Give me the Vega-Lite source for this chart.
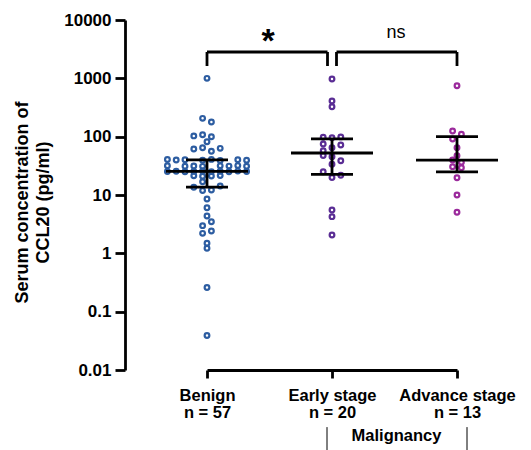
{
  "$schema": "https://vega.github.io/schema/vega-lite/v6.json",
  "width": 405,
  "height": 350,
  "autosize": {"type": "none"},
  "padding": {"left": 125, "top": 20, "right": 1, "bottom": 80},
  "background": "white",
  "config": {"view": {"stroke": null}, "font": "Liberation Sans"},
  "datasets": {
    "points": [
      {"group": "Benign", "col": 0, "value": 1000},
      {"group": "Benign", "col": -0.5, "value": 206},
      {"group": "Benign", "col": 0.5, "value": 178},
      {"group": "Benign", "col": -0.5, "value": 108},
      {"group": "Benign", "col": -1.5, "value": 103},
      {"group": "Benign", "col": 0.5, "value": 99.5},
      {"group": "Benign", "col": 0, "value": 82},
      {"group": "Benign", "col": -0.5, "value": 64.7},
      {"group": "Benign", "col": 1.5, "value": 63.1},
      {"group": "Benign", "col": -1.5, "value": 61.4},
      {"group": "Benign", "col": 0.5, "value": 56.1},
      {"group": "Benign", "col": -4.5, "value": 40.5},
      {"group": "Benign", "col": -3.5, "value": 39.8},
      {"group": "Benign", "col": -2.5, "value": 40.2},
      {"group": "Benign", "col": -0.5, "value": 39.5},
      {"group": "Benign", "col": 0.5, "value": 40.8},
      {"group": "Benign", "col": 1.5, "value": 39.2},
      {"group": "Benign", "col": 3.5, "value": 40.1},
      {"group": "Benign", "col": 4.5, "value": 39.6},
      {"group": "Benign", "col": -4.5, "value": 31.8},
      {"group": "Benign", "col": -2.5, "value": 31.2},
      {"group": "Benign", "col": -1.5, "value": 31.5},
      {"group": "Benign", "col": -0.5, "value": 31.0},
      {"group": "Benign", "col": 1.5, "value": 31.6},
      {"group": "Benign", "col": 2.5, "value": 31.3},
      {"group": "Benign", "col": 3.5, "value": 31.9},
      {"group": "Benign", "col": 4.5, "value": 31.1},
      {"group": "Benign", "col": -4.5, "value": 25.3},
      {"group": "Benign", "col": -3.5, "value": 25.6},
      {"group": "Benign", "col": -2.5, "value": 25.0},
      {"group": "Benign", "col": -1.5, "value": 25.4},
      {"group": "Benign", "col": -0.5, "value": 25.8},
      {"group": "Benign", "col": 0.5, "value": 25.2},
      {"group": "Benign", "col": 1.5, "value": 25.5},
      {"group": "Benign", "col": 2.5, "value": 25.1},
      {"group": "Benign", "col": 3.5, "value": 25.7},
      {"group": "Benign", "col": 4.5, "value": 25.3},
      {"group": "Benign", "col": -1.5, "value": 21.4},
      {"group": "Benign", "col": -0.5, "value": 21.0},
      {"group": "Benign", "col": 0.5, "value": 21.2},
      {"group": "Benign", "col": 1.5, "value": 21.5},
      {"group": "Benign", "col": -0.5, "value": 16.9},
      {"group": "Benign", "col": 1.5, "value": 14.3},
      {"group": "Benign", "col": -1.5, "value": 13.6},
      {"group": "Benign", "col": 0.5, "value": 12.2},
      {"group": "Benign", "col": -0.5, "value": 11.9},
      {"group": "Benign", "col": 0, "value": 8.54},
      {"group": "Benign", "col": 0, "value": 6.05},
      {"group": "Benign", "col": 0, "value": 4.36},
      {"group": "Benign", "col": 0.5, "value": 3.48},
      {"group": "Benign", "col": -0.5, "value": 2.98},
      {"group": "Benign", "col": 0.5, "value": 2.42},
      {"group": "Benign", "col": -0.5, "value": 2.2},
      {"group": "Benign", "col": 0, "value": 1.49},
      {"group": "Benign", "col": 0, "value": 1.22},
      {"group": "Benign", "col": 0, "value": 0.26},
      {"group": "Benign", "col": 0, "value": 0.039},
      {"group": "Early stage", "col": 0, "value": 975},
      {"group": "Early stage", "col": 0, "value": 408},
      {"group": "Early stage", "col": 0, "value": 326},
      {"group": "Early stage", "col": -1, "value": 97.5},
      {"group": "Early stage", "col": 0, "value": 96},
      {"group": "Early stage", "col": 1, "value": 99},
      {"group": "Early stage", "col": -1, "value": 74.8},
      {"group": "Early stage", "col": 1, "value": 72},
      {"group": "Early stage", "col": 0, "value": 64.7},
      {"group": "Early stage", "col": -1, "value": 57.5},
      {"group": "Early stage", "col": -1, "value": 47.5},
      {"group": "Early stage", "col": 0, "value": 45.4},
      {"group": "Early stage", "col": 1, "value": 38.7},
      {"group": "Early stage", "col": 0, "value": 33.6},
      {"group": "Early stage", "col": -1, "value": 25.1},
      {"group": "Early stage", "col": 0, "value": 20},
      {"group": "Early stage", "col": 1, "value": 21.8},
      {"group": "Early stage", "col": 0, "value": 5.53},
      {"group": "Early stage", "col": 0, "value": 4.25},
      {"group": "Early stage", "col": 0, "value": 2.06},
      {"group": "Advance stage", "col": 0, "value": 748},
      {"group": "Advance stage", "col": -0.5, "value": 125},
      {"group": "Advance stage", "col": 0.5, "value": 110},
      {"group": "Advance stage", "col": -0.5, "value": 91},
      {"group": "Advance stage", "col": 0, "value": 64.7},
      {"group": "Advance stage", "col": 0, "value": 47.2},
      {"group": "Advance stage", "col": -0.5, "value": 39.8},
      {"group": "Advance stage", "col": 0.5, "value": 36.3},
      {"group": "Advance stage", "col": -0.5, "value": 30.6},
      {"group": "Advance stage", "col": 0.5, "value": 29.4},
      {"group": "Advance stage", "col": 0, "value": 19.8},
      {"group": "Advance stage", "col": 0, "value": 10},
      {"group": "Advance stage", "col": 0, "value": 5.05}
    ],
    "summary": [
      {"group": "Benign", "median": 25.5, "q1": 13.6, "q3": 40},
      {"group": "Early stage", "median": 52.5, "q1": 22.6, "q3": 92},
      {"group": "Advance stage", "median": 39.5, "q1": 25, "q3": 100}
    ],
    "bracket1": [{"group": "Benign", "group2": "Early stage", "value": 2830}],
    "bracket2": [{"group": "Early stage", "group2": "Advance stage", "value": 2830}],
    "legsOuter": [
      {"group": "Benign", "value": 1626, "value2": 2830},
      {"group": "Advance stage", "value": 1626, "value2": 2830}
    ],
    "legMid": [{"group": "Early stage", "value": 1626, "value2": 2830}],
    "stars": [{"group": "Benign", "value": 2830, "label": "*"}],
    "ns": [{"group": "Early stage", "value": 4914, "label": "ns"}],
    "barEarly": [{"group": "Early stage", "value": 0.00105, "value2": 0.000425}],
    "barAdvance": [{"group": "Advance stage", "value": 0.00105, "value2": 0.000425}]
  },
  "encoding": {
    "x": {
      "field": "group",
      "type": "nominal",
      "sort": ["Benign", "Early stage", "Advance stage"],
      "scale": {"type": "point", "domain": ["Benign", "Early stage", "Advance stage"], "range": [82, 332], "padding": 0},
      "axis": {
        "labelExpr": "datum.label == 'Benign' ? ['Benign', 'n = 57'] : datum.label == 'Early stage' ? ['Early stage', 'n = 20'] : ['Advance stage', 'n = 13']",
        "labelAngle": 0,
        "title": "Malignancy",
        "titleX": 271,
        "titleY": 70,
        "titleAlign": "center",
        "titleBaseline": "alphabetic",
        "titleFont": "Liberation Sans",
        "titleFontSize": 16.5,
        "titleFontWeight": "bold",
        "titleColor": "black",
        "labelFont": "Liberation Sans",
        "labelFontSize": 16.5,
        "labelFontWeight": "bold",
        "labelColor": "black",
        "labelLineHeight": 17,
        "labelPadding": 9,
        "labelFlush": false,
        "labelOverlap": false,
        "tickSize": 8,
        "tickWidth": 2.8,
        "tickColor": "black",
        "domainColor": "black",
        "domainWidth": 2.8,
        "grid": false
      }
    },
    "y": {
      "field": "value",
      "type": "quantitative",
      "scale": {"type": "log", "domain": [0.01, 10000], "nice": false},
      "axis": {
        "title": ["Serum concentration of", "CCL20 (pg/ml)"],
        "titleFont": "Liberation Sans",
        "titleFontSize": 18,
        "titleFontWeight": "bold",
        "titleColor": "black",
        "titleLineHeight": 21,
        "titleAngle": -90,
        "titleX": -98,
        "titleY": 182,
        "titleAlign": "center",
        "titleBaseline": "alphabetic",
        "values": [0.01, 0.1, 1, 10, 100, 1000, 10000],
        "format": "~g",
        "labelFont": "Liberation Sans",
        "labelFontSize": 17,
        "labelFontWeight": "bold",
        "labelColor": "black",
        "labelPadding": 4,
        "tickSize": 10,
        "tickWidth": 2.8,
        "tickColor": "black",
        "domainColor": "black",
        "domainWidth": 2.8,
        "grid": false
      }
    }
  },
  "layer": [
    {
      "data": {"name": "points"},
      "mark": {"type": "point", "filled": false, "size": 22, "strokeWidth": 2.2, "opacity": 1},
      "encoding": {
        "xOffset": {"field": "col", "type": "quantitative", "scale": {"domain": [-5, 5], "range": [-44, 44]}},
        "color": {
          "field": "group",
          "type": "nominal",
          "scale": {"domain": ["Benign", "Early stage", "Advance stage"], "range": ["#2d5da1", "#5a2d94", "#9b2a9c"]},
          "legend": null
        }
      }
    },
    {
      "data": {"name": "summary"},
      "mark": {"type": "rule", "color": "black", "strokeWidth": 2.8, "opacity": 1},
      "encoding": {"y": {"field": "q1", "type": "quantitative"}, "y2": {"field": "q3"}}
    },
    {
      "data": {"name": "summary"},
      "mark": {"type": "tick", "color": "black", "opacity": 1, "orient": "horizontal", "size": 82, "thickness": 2.8},
      "encoding": {"y": {"field": "median", "type": "quantitative"}}
    },
    {
      "data": {"name": "summary"},
      "mark": {"type": "tick", "color": "black", "opacity": 1, "orient": "horizontal", "size": 42, "thickness": 2.8},
      "encoding": {"y": {"field": "q1", "type": "quantitative"}}
    },
    {
      "data": {"name": "summary"},
      "mark": {"type": "tick", "color": "black", "opacity": 1, "orient": "horizontal", "size": 42, "thickness": 2.8},
      "encoding": {"y": {"field": "q3", "type": "quantitative"}}
    },
    {
      "data": {"name": "bracket1"},
      "mark": {"type": "rule", "color": "black", "strokeWidth": 2.8, "x2Offset": -4.5},
      "encoding": {"x2": {"field": "group2"}}
    },
    {
      "data": {"name": "bracket2"},
      "mark": {"type": "rule", "color": "black", "strokeWidth": 2.8, "xOffset": 4.5},
      "encoding": {"x2": {"field": "group2"}}
    },
    {
      "data": {"name": "legsOuter"},
      "mark": {"type": "rule", "color": "black", "strokeWidth": 2.8},
      "encoding": {"y2": {"field": "value2"}}
    },
    {
      "data": {"name": "legMid"},
      "mark": {"type": "rule", "color": "black", "strokeWidth": 2.8, "xOffset": -4.5},
      "encoding": {"y2": {"field": "value2"}}
    },
    {
      "data": {"name": "legMid"},
      "mark": {"type": "rule", "color": "black", "strokeWidth": 2.8, "xOffset": 4.5},
      "encoding": {"y2": {"field": "value2"}}
    },
    {
      "data": {"name": "stars"},
      "mark": {"type": "text", "font": "Liberation Sans", "fontSize": 34, "fontWeight": "bold", "color": "black", "baseline": "alphabetic", "align": "center", "dx": 61},
      "encoding": {"text": {"field": "label"}}
    },
    {
      "data": {"name": "ns"},
      "mark": {"type": "text", "font": "Liberation Sans", "fontSize": 18, "color": "black", "baseline": "alphabetic", "align": "center", "dx": 64},
      "encoding": {"text": {"field": "label"}}
    },
    {
      "data": {"name": "barEarly"},
      "mark": {"type": "rule", "color": "black", "strokeWidth": 1, "xOffset": -5},
      "encoding": {"y2": {"field": "value2"}}
    },
    {
      "data": {"name": "barAdvance"},
      "mark": {"type": "rule", "color": "black", "strokeWidth": 1, "xOffset": 10},
      "encoding": {"y2": {"field": "value2"}}
    }
  ]
}
